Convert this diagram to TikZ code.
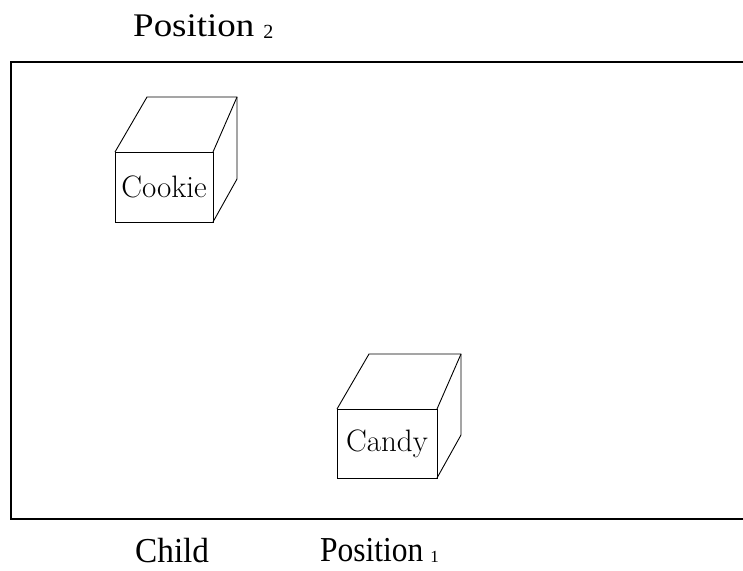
\documentclass[tikz,border=0pt]{standalone}
\usepackage{fontspec}
\newfontfamily\capfont{Liberation Serif}
\usepackage{graphicx}
\usetikzlibrary{calc}
\tikzstyle{crate}=[line width=.9pt, line join=miter]
\tikzstyle{frame}=[line width=1.6pt]
\tikzstyle{caption}=[inner sep=0pt, anchor=base west]
\newcommand{\crateBox}[4]{ % #1 name, #2 front top left, #3 front bottom right, #4 label
	\coordinate (#1a) at #2;
	\coordinate (#1c) at #3;
	\coordinate (#1b) at (#1c |- #1a);
	\draw[crate] (#1a) rectangle (#1c);
	\draw[crate] (#1a) -- ($(#1a)+(32,-55)$) -- ($(#1b)+(24,-55)$) -- ($(#1c)+(24,-43)$) -- (#1c);
	\draw[crate] (#1b) -- ($(#1b)+(24,-55)$);
	\node (#1) at ($1/2*(#1a)+1/2*(#1c)$) {\fontsize{31}{33}\selectfont #4};
}

\begin{document}
\begin{tikzpicture}[x=1pt, y=-1pt]
	\useasboundingbox (0,0) rectangle (743,570);
	% open frame, cut off at the right
	\coordinate (tr) at (743,62);
	\coordinate (tl) at (11,62);
	\coordinate (bl) at (11,519);
	\coordinate (br) at (743,519);
	\draw[frame] (tr) -- (tl) -- (bl) -- (br);
	\crateBox{cookie}{(115,152)}{(213,222)}{Cookie}
	\crateBox{candy}{(337,409)}{(437,478)}{Candy}
	\node[caption] (pos2) at (133,36) {\scalebox{1.12}[1]{\capfont\fontsize{33}{36}\selectfont Position}\hspace{9pt}\raisebox{-2pt}{\capfont\fontsize{20}{21}\selectfont 2}};
	\node[caption] (pos1) at (320,561) {\scalebox{.9}[1]{\capfont\fontsize{35}{38}\selectfont Position}\hspace{7pt}\raisebox{-1pt}{\capfont\fontsize{17}{18}\selectfont 1}};
	\node[caption] (child) at (135,562) {\scalebox{.95}[1]{\capfont\fontsize{35}{38}\selectfont Child}};
\end{tikzpicture}
\end{document}
